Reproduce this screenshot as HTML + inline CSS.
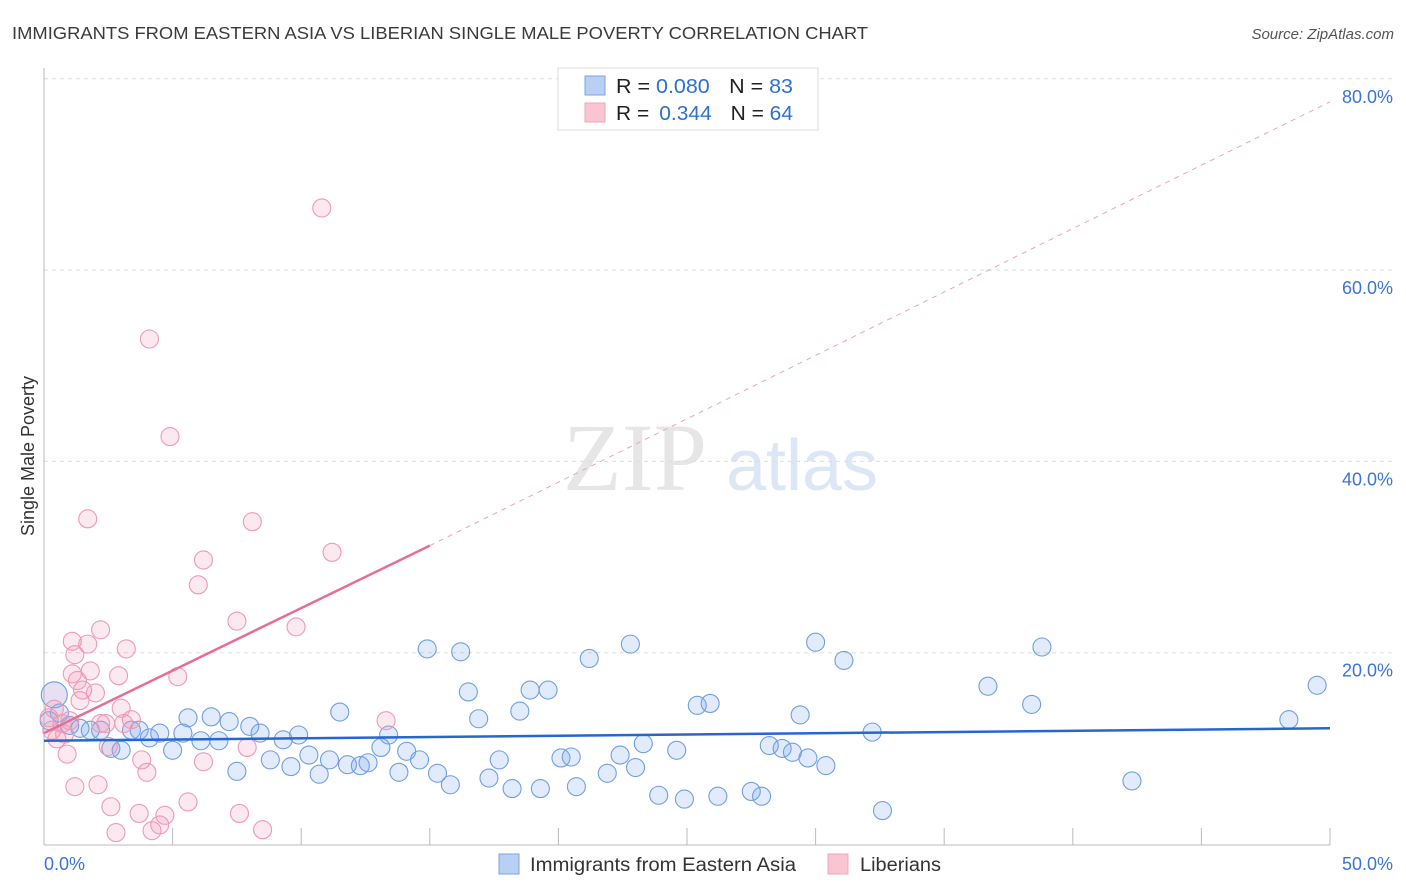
<!DOCTYPE html>
<html><head><meta charset="utf-8"><style>
body{margin:0;background:#fff;font-family:"Liberation Sans",sans-serif}
svg{display:block}
</style></head><body>
<svg id="c" width="1406" height="892">
<text x="12" y="39" font-size="17.5" fill="#3a3a3a" textLength="856" lengthAdjust="spacingAndGlyphs">IMMIGRANTS FROM EASTERN ASIA VS LIBERIAN SINGLE MALE POVERTY CORRELATION CHART</text>
<text x="1394" y="39" font-size="15" fill="#555" font-style="italic" text-anchor="end">Source: ZipAtlas.com</text>
<text x="34" y="456" font-size="18" fill="#333" text-anchor="middle" transform="rotate(-90 34 456)">Single Male Poverty</text>
<text x="635" y="490" font-size="96" fill="#e6e6e6" font-family="Liberation Serif,serif" text-anchor="middle">ZIP</text>
<text x="802" y="490" font-size="72" fill="#dde6f4" text-anchor="middle">atlas</text>
<g id="grid"></g><g id="pts"></g><g id="trend"></g>
<g>
<rect x="558" y="68" width="260" height="62" fill="#fff" stroke="#ddd"/>
<rect x="585" y="76" width="20" height="19" fill="#b8d0f4" stroke="#7ea4df"/>
<rect x="585" y="103" width="20" height="19" fill="#f9c5d3" stroke="#f1a5bb"/>
<text x="616" y="93" font-size="20" fill="#222" textLength="177" lengthAdjust="spacingAndGlyphs">R = <tspan fill="#2f6fd1">0.080</tspan><tspan dx="18">N = </tspan><tspan fill="#2f6fd1">83</tspan></text>
<text x="616" y="120" font-size="20" fill="#222" textLength="177" lengthAdjust="spacingAndGlyphs">R = <tspan fill="#2f6fd1" dx="4">0.344</tspan><tspan dx="18">N = </tspan><tspan fill="#2f6fd1">64</tspan></text>
</g>
<g>
<rect x="499" y="854" width="20" height="20" fill="#b8d0f4" stroke="#7ea4df"/>
<text x="530" y="871" font-size="19" fill="#333" textLength="266" lengthAdjust="spacingAndGlyphs">Immigrants from Eastern Asia</text>
<rect x="828" y="854" width="20" height="20" fill="#f9c5d3" stroke="#f1a5bb"/>
<text x="860" y="871" font-size="19" fill="#333" textLength="81" lengthAdjust="spacingAndGlyphs">Liberians</text>
</g>
</svg>
<script>
const yTicks=[20,40,60,80];
const yTickLabels=["20.0%","40.0%","60.0%","80.0%"];
const xTickLabels=["0.0%","50.0%"];
const blueX=[0.4,0.2,0.6,1,1.4,1.8,2.2,2.6,3,3.4,3.7,4.1,4.5,5,5.4,5.6,6.1,6.5,6.8,7.2,7.5,8,8.4,8.8,9.3,9.6,9.9,10.3,10.7,11.1,11.5,11.8,12.3,12.6,13.1,13.4,13.8,14.1,14.6,14.9,15.3,15.8,16.2,16.5,16.9,17.3,17.7,18.2,18.5,18.9,19.3,19.6,20.1,20.5,20.7,21.2,21.9,22.4,22.8,23,23.3,23.9,24.6,24.9,25.4,25.9,26.2,27.5,27.9,28.2,28.7,29.1,29.4,29.7,30,30.4,31.1,32.2,32.6,36.7,38.4,38.8,42.3,48.4,49.5];
const blueY=[15.7,13,13.8,12.5,12.2,12,12,10.1,9.9,12,12,11.2,11.7,9.9,11.7,13.3,10.9,13.4,10.9,12.9,7.7,12.4,11.7,8.9,11,8.2,11.5,9.4,7.4,8.9,13.9,8.4,8.3,8.6,10.2,11.5,7.6,9.8,8.9,20.5,7.5,6.3,20.2,16,13.2,7,8.9,5.9,14,16.2,5.9,16.2,9.1,9.2,6.1,19.5,7.5,9.4,21,8.1,10.6,5.2,9.9,4.8,14.6,14.8,5.1,5.6,5.1,10.4,10.1,9.7,13.6,9.1,21.2,8.3,19.3,11.8,3.6,16.6,14.7,20.7,6.7,13.1,16.7];
const pinkX=[0.2,0.3,0.4,0.5,0.7,0.8,0.9,1,1.1,1.1,1.2,1.2,1.3,1.4,1.5,1.7,1.7,1.8,2,2.1,2.2,2.2,2.4,2.5,2.6,2.8,2.9,3,3.1,3.2,3.4,3.7,3.8,4,4.1,4.2,4.5,4.7,4.9,5.2,5.6,6,6.2,6.2,7.5,7.6,7.9,8.1,8.5,9.8,10.8,11.2,13.3];
const pinkY=[13.3,12,14.2,11.1,12.7,11.6,9.5,13,21.3,17.9,6.1,19.9,17.2,15.1,16.2,21,34.1,18.2,15.9,6.3,22.5,12.7,12.7,10.3,4,1.3,17.7,14.3,12.7,20.5,13.1,3.3,8.9,7.6,52.9,1.5,2.1,3.1,42.7,17.6,4.5,27.2,8.7,29.8,23.4,3.3,10.2,33.8,1.6,22.8,66.6,30.6,13];
const xs=v=>44+v/50*1286, ys=v=>845-v/20*191.3;
const NS="http://www.w3.org/2000/svg";
function mk(p,t,a){const e=document.createElementNS(NS,t);for(const k in a)e.setAttribute(k,a[k]);p.appendChild(e);return e;}
const g=document.getElementById('grid');
yTicks.forEach((t,i)=>{
 const l=mk(g,'line',{x1:44,x2:1394,y1:ys(t)-1,y2:ys(t)-1,stroke:'#ddd','stroke-dasharray':'4,4'});
 
 
 const tx=mk(g,'text',{x:1393,y:ys(t)+23,'font-size':18,fill:'#3b74d6','text-anchor':'end'});tx.textContent=yTickLabels[i];
 
 
});
const ax=mk(g,'line',{x1:44,x2:1330,y1:845,y2:845,stroke:'#bbb'});


const ay=mk(g,'line',{x1:44,x2:44,y1:68,y2:845,stroke:'#bbb'});


for(let i=1;i<=10;i++){const t=mk(g,'line',{x1:xs(i*5),x2:xs(i*5),y1:828,y2:845,stroke:'#bbb'});
 
 }
const x0=mk(g,'text',{x:44,y:870,'font-size':18,fill:'#3b74d6'});x0.textContent=xTickLabels[0];


const x1=mk(g,'text',{x:1393,y:870,'font-size':18,fill:'#3b74d6','text-anchor':'end'});x1.textContent=xTickLabels[1];


const P=document.getElementById('pts');
blueX.forEach((x,i)=>{const c=mk(P,'circle',{cx:xs(x),cy:ys(blueY[i]),r:i==0?13:9,fill:i==0?'rgba(180,170,220,0.35)':'rgba(120,165,235,0.22)',stroke:'#6f9fe0','stroke-width':1.1});
 
 });
pinkX.forEach((x,i)=>{const c=mk(P,'circle',{cx:xs(x),cy:ys(pinkY[i]),r:9,fill:'rgba(242,150,180,0.22)',stroke:'#ee9ab3','stroke-width':1.1});
 
 });
const T=document.getElementById('trend');
const bl=mk(T,'line',{x1:xs(0),y1:ys(10.9),x2:xs(50),y2:ys(12.2),stroke:'#2567d0','stroke-width':2.5});


const pd=mk(T,'line',{x1:xs(15),y1:ys(31.3),x2:xs(50),y2:ys(77.7),stroke:'#eba3b9','stroke-width':1,'stroke-dasharray':'5,5'});


const pl=mk(T,'line',{x1:xs(0),y1:ys(11.7),x2:xs(15),y2:ys(31.3),stroke:'#e76d96','stroke-width':2.5});


</script>
</body></html>
